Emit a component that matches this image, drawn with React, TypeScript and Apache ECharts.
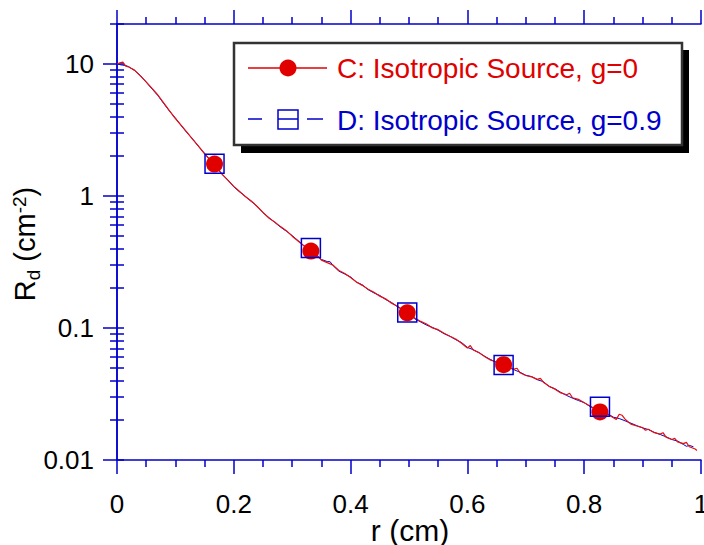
import React, { useEffect, useRef } from 'react';
import * as echarts from 'echarts';

// ---------- data ----------
const xMajorTicks = [0, 0.2, 0.4, 0.6, 0.8, 1];
const xTickLabels = ['0', '0.2', '0.4', '0.6', '0.8', '1'];
const xMinorTicks = [0.05, 0.1, 0.15, 0.25, 0.3, 0.35, 0.45, 0.5, 0.55, 0.65, 0.7, 0.75, 0.85, 0.9, 0.95];
const yMajorTicks = [0.01, 0.1, 1, 10];
const yTickLabels = ['0.01', '0.1', '1', '10'];
const yMinorTicks = [
  0.02, 0.03, 0.04, 0.05, 0.06, 0.07, 0.08, 0.09,
  0.2, 0.3, 0.4, 0.5, 0.6, 0.7, 0.8, 0.9,
  2, 3, 4, 5, 6, 7, 8, 9, 20,
];

const legendC = 'C: Isotropic Source, g=0';
const legendD = 'D: Isotropic Source, g=0.9';
const xTitle = 'r (cm)';

// C: isotropic source, g=0 (red line)
const curveC: [number, number][] = [
  [0, 9.95], [0.005, 10.15], [0.01, 10.3], [0.015, 9.6], [0.02, 9.45], [0.03, 8.95], [0.04, 8.1],
  [0.05, 7.3], [0.06, 6.5], [0.07, 5.8], [0.08, 5.05], [0.09, 4.4], [0.1, 3.85], [0.11, 3.42],
  [0.12, 3.02], [0.13, 2.66], [0.14, 2.37], [0.15, 2.08], [0.16, 1.86], [0.17, 1.66], [0.18, 1.46],
  [0.19, 1.31], [0.2, 1.18], [0.21, 1.08], [0.22, 0.985], [0.23, 0.915], [0.24, 0.83], [0.25, 0.75],
  [0.26, 0.68], [0.27, 0.635], [0.28, 0.585], [0.29, 0.545], [0.3, 0.495], [0.31, 0.455], [0.32, 0.418],
  [0.33, 0.39], [0.34, 0.365], [0.35, 0.326], [0.36, 0.312], [0.37, 0.299], [0.38, 0.272], [0.39, 0.258],
  [0.4, 0.241], [0.41, 0.223], [0.42, 0.21], [0.43, 0.196], [0.44, 0.186], [0.45, 0.174], [0.46, 0.166],
  [0.47, 0.154], [0.48, 0.146], [0.49, 0.136], [0.5, 0.128], [0.51, 0.119], [0.52, 0.112], [0.53, 0.107],
  [0.54, 0.1], [0.55, 0.097], [0.56, 0.091], [0.57, 0.0865], [0.58, 0.0825], [0.59, 0.0765], [0.6, 0.0705],
  [0.605, 0.0735], [0.61, 0.068], [0.62, 0.065], [0.63, 0.0605], [0.64, 0.057], [0.65, 0.0552], [0.66, 0.0528],
  [0.67, 0.0505], [0.68, 0.0488], [0.685, 0.0495], [0.69, 0.0458], [0.7, 0.0436], [0.71, 0.0426], [0.72, 0.0408],
  [0.725, 0.0415], [0.73, 0.0388], [0.74, 0.0362], [0.75, 0.0344], [0.76, 0.0322], [0.77, 0.0312], [0.775, 0.032],
  [0.78, 0.0296], [0.79, 0.0288], [0.8, 0.0271], [0.81, 0.0256], [0.82, 0.0241], [0.83, 0.0231], [0.84, 0.0222],
  [0.85, 0.0209], [0.855, 0.0203], [0.86, 0.0222], [0.865, 0.0218], [0.87, 0.0204], [0.875, 0.0195], [0.88, 0.0187],
  [0.89, 0.0181], [0.9, 0.0176], [0.905, 0.0168], [0.91, 0.0171], [0.92, 0.0161], [0.93, 0.0157], [0.935, 0.0161],
  [0.94, 0.0149], [0.95, 0.0143], [0.955, 0.0146], [0.96, 0.0137], [0.97, 0.0133], [0.975, 0.0136], [0.98, 0.0126],
  [0.99, 0.0121], [0.993, 0.0118],
];

// D: isotropic source, g=0.9 (blue line)
const curveD: [number, number][] = [
  [0, 10.0], [0.005, 9.85], [0.01, 9.75], [0.015, 9.7], [0.02, 9.5], [0.03, 8.9], [0.04, 8.15],
  [0.05, 7.25], [0.06, 6.45], [0.07, 5.75], [0.08, 5.0], [0.09, 4.38], [0.1, 3.88], [0.11, 3.4],
  [0.12, 3.0], [0.13, 2.68], [0.14, 2.35], [0.15, 2.1], [0.16, 1.85], [0.17, 1.64], [0.18, 1.45],
  [0.19, 1.32], [0.2, 1.17], [0.21, 1.07], [0.22, 0.99], [0.23, 0.905], [0.24, 0.835], [0.25, 0.745],
  [0.26, 0.685], [0.27, 0.63], [0.28, 0.58], [0.29, 0.54], [0.3, 0.5], [0.31, 0.458], [0.32, 0.42],
  [0.33, 0.392], [0.34, 0.36], [0.35, 0.33], [0.36, 0.318], [0.365, 0.317], [0.37, 0.296], [0.38, 0.269],
  [0.39, 0.256], [0.4, 0.243], [0.41, 0.222], [0.42, 0.212], [0.43, 0.195], [0.44, 0.184], [0.45, 0.176],
  [0.46, 0.164], [0.47, 0.156], [0.48, 0.145], [0.49, 0.137], [0.5, 0.127], [0.51, 0.117], [0.52, 0.111],
  [0.53, 0.105], [0.54, 0.101], [0.55, 0.096], [0.56, 0.0905], [0.57, 0.0865], [0.58, 0.0815], [0.59, 0.0775],
  [0.6, 0.0712], [0.61, 0.0684], [0.62, 0.0648], [0.63, 0.0608], [0.64, 0.0575], [0.65, 0.0548], [0.66, 0.0525],
  [0.67, 0.0502], [0.68, 0.0482], [0.69, 0.0462], [0.7, 0.0438], [0.71, 0.0428], [0.72, 0.0405], [0.73, 0.0392],
  [0.74, 0.036], [0.75, 0.0346], [0.76, 0.0325], [0.77, 0.0308], [0.78, 0.0294], [0.79, 0.0282], [0.8, 0.0272],
  [0.81, 0.0254], [0.82, 0.0243], [0.83, 0.0233], [0.84, 0.0224], [0.85, 0.0211], [0.86, 0.0206], [0.87, 0.0198],
  [0.88, 0.019], [0.89, 0.0182], [0.9, 0.0175], [0.91, 0.017], [0.92, 0.0162], [0.93, 0.0156], [0.94, 0.015],
  [0.95, 0.0143], [0.96, 0.0139], [0.97, 0.0131], [0.975, 0.0127], [0.98, 0.0129], [0.987, 0.0126],
];

const markersC: [number, number][] = [
  [0.167, 1.74], [0.332, 0.382], [0.497, 0.130], [0.662, 0.0527], [0.827, 0.0231],
];
const markersD: [number, number][] = [
  [0.167, 1.75], [0.332, 0.403], [0.497, 0.131], [0.662, 0.0525], [0.827, 0.0253],
];

// ---------- styles ----------
const BLUE = '#0000cc';
const RED = '#e00000';
const FONT = '"Liberation Sans", Arial, Helvetica, sans-serif';

function measure(text: string, size: number): number {
  const ctx = document.createElement('canvas').getContext('2d');
  if (!ctx) return text.length * size * 0.55;
  ctx.font = `${size}px "Liberation Sans", Arial, sans-serif`;
  return ctx.measureText(text).width;
}

export default function App() {
  const ref = useRef<HTMLDivElement>(null);

  useEffect(() => {
    if (!ref.current) return;
    const chart = echarts.init(ref.current, undefined, { renderer: 'svg' });

    const axisLineStyle = { color: BLUE, width: 1.5 };
    const tickStyle = { color: BLUE, width: 1.5 };

    // y title: R_d (cm^-2)
    const parts = [
      { t: 'R', fs: 29, shift: 0 },
      { t: 'd', fs: 19, shift: 5 },
      { t: ' (cm', fs: 29, shift: 0 },
      { t: '-2', fs: 19, shift: -9 },
      { t: ')', fs: 29, shift: 0 },
    ];
    let acc = 0;
    const yTitleChildren = parts.map((p) => {
      const el = {
        type: 'text',
        x: acc,
        y: p.shift - 0.3465 * p.fs,
        style: {
          text: p.t,
          fontSize: p.fs,
          fontFamily: FONT,
          fill: '#000',
          align: 'left',
          verticalAlign: 'middle',
        },
      };
      acc += measure(p.t, p.fs);
      return el;
    });

    const yLabelFmt = (v: number) => {
      const i = yMajorTicks.findIndex((t) => Math.abs(Math.log10(t) - Math.log10(v)) < 1e-6);
      return i >= 0 ? yTickLabels[i] : '';
    };
    const xLabelFmt = (v: number) => {
      const i = xMajorTicks.findIndex((t) => Math.abs(t - v) < 1e-6);
      return i >= 0 ? xTickLabels[i] : '';
    };

    const baseX = { type: 'value', min: 0, max: 1, splitLine: { show: false } };
    const baseY = { type: 'log', logBase: 10, min: 0.01, max: 20, splitLine: { show: false } };

    const option: any = {
      animation: false,
      backgroundColor: '#fff',
      grid: { left: 117, right: 3, top: 24, bottom: 85, containLabel: false, outerBoundsMode: 'none' },
      xAxis: [
        {
          ...baseX,
          position: 'bottom',
          axisLine: { show: true, lineStyle: axisLineStyle },
          axisTick: { show: true, inside: false, length: 14, lineStyle: tickStyle, customValues: xMajorTicks },
          axisLabel: {
            show: true, customValues: xMajorTicks, formatter: xLabelFmt,
            fontSize: 26, fontFamily: FONT, color: '#000', margin: 31,
          },
        },
        {
          ...baseX,
          position: 'bottom',
          axisLine: { show: false },
          axisTick: { show: true, inside: false, length: 7, lineStyle: tickStyle, customValues: xMinorTicks },
          axisLabel: { show: false },
        },
        {
          ...baseX,
          position: 'top',
          axisLine: { show: true, lineStyle: axisLineStyle },
          axisTick: { show: true, inside: false, length: 14, lineStyle: tickStyle, customValues: xMajorTicks },
          axisLabel: { show: false },
        },
        {
          ...baseX,
          position: 'top',
          axisLine: { show: false },
          axisTick: { show: true, inside: false, length: 7, lineStyle: tickStyle, customValues: xMinorTicks },
          axisLabel: { show: false },
        },
      ],
      yAxis: [
        {
          ...baseY,
          position: 'left',
          axisLine: { show: true, lineStyle: axisLineStyle },
          axisTick: { show: true, inside: false, length: 14, lineStyle: tickStyle, customValues: yMajorTicks },
          axisLabel: {
            show: true, customValues: yMajorTicks, formatter: yLabelFmt,
            fontSize: 26, fontFamily: FONT, color: '#000', margin: 23,
          },
        },
        {
          ...baseY,
          position: 'left',
          axisLine: { show: false },
          axisTick: { show: true, inside: false, length: 7, lineStyle: tickStyle, customValues: yMinorTicks },
          axisLabel: { show: false },
        },
        {
          ...baseY,
          position: 'right',
          axisLine: { show: true, lineStyle: axisLineStyle },
          axisTick: { show: true, inside: false, length: 7, lineStyle: tickStyle, customValues: [...yMajorTicks, ...yMinorTicks] },
          axisLabel: { show: false },
        },
      ],
      series: [
        {
          type: 'line', xAxisIndex: 0, yAxisIndex: 0, data: curveD, showSymbol: false,
          lineStyle: { color: BLUE, width: 1 }, z: 2, silent: true,
        },
        {
          type: 'line', xAxisIndex: 0, yAxisIndex: 0, data: curveC, showSymbol: false,
          lineStyle: { color: '#e41010', width: 1.2 }, z: 3, silent: true,
        },
        {
          type: 'scatter', xAxisIndex: 0, yAxisIndex: 0, data: markersC, symbol: 'circle', symbolSize: 17,
          itemStyle: { color: RED, opacity: 1 }, z: 4,
        },
        {
          type: 'scatter', xAxisIndex: 0, yAxisIndex: 0, data: markersD, symbol: 'rect', symbolSize: 19,
          itemStyle: { color: 'rgba(0,0,0,0)', borderColor: BLUE, borderWidth: 1.5, opacity: 1 }, z: 5,
        },
      ],
      graphic: [
        // legend shadow + box
        { type: 'rect', z: 100, shape: { x: 241, y: 50, width: 448, height: 103 }, style: { fill: '#000' } },
        { type: 'rect', z: 101, shape: { x: 234, y: 43, width: 448, height: 102 }, style: { fill: '#fff', stroke: '#333', lineWidth: 2.5 } },
        // C sample
        { type: 'line', z: 102, shape: { x1: 248, y1: 68, x2: 327, y2: 68 }, style: { stroke: RED, lineWidth: 1.5 } },
        { type: 'circle', z: 103, shape: { cx: 288, cy: 68, r: 8.5 }, style: { fill: RED } },
        {
          type: 'text', z: 103, x: 337, y: 68,
          style: { text: legendC, fontSize: 28, fontFamily: FONT, fill: RED, align: 'left', verticalAlign: 'middle' },
        },
        // D sample
        { type: 'line', z: 102, shape: { x1: 248, y1: 119, x2: 262, y2: 119 }, style: { stroke: BLUE, lineWidth: 1.5 } },
        { type: 'line', z: 102, shape: { x1: 278, y1: 119, x2: 298, y2: 119 }, style: { stroke: BLUE, lineWidth: 1.5 } },
        { type: 'line', z: 102, shape: { x1: 307, y1: 119, x2: 323, y2: 119 }, style: { stroke: BLUE, lineWidth: 1.5 } },
        { type: 'rect', z: 103, shape: { x: 278, y: 110, width: 20, height: 19 }, style: { fill: 'none', stroke: BLUE, lineWidth: 1.5 } },
        {
          type: 'text', z: 103, x: 337, y: 120,
          style: { text: legendD, fontSize: 28, fontFamily: FONT, fill: BLUE, align: 'left', verticalAlign: 'middle' },
        },
        // x title
        {
          type: 'text', z: 100, x: 410, y: 530,
          style: { text: xTitle, fontSize: 30, fontFamily: FONT, fill: '#000', align: 'center', verticalAlign: 'middle' },
        },
        // y title
        {
          type: 'group', z: 100, x: 35, y: 244 + acc / 2, rotation: Math.PI / 2,
          children: yTitleChildren,
        },
      ],
    };

    chart.setOption(option);
    return () => chart.dispose();
  }, []);

  return (
    <div
      ref={ref}
      style={{ position: 'absolute', left: 0, top: 0, width: 704, height: 545, background: '#fff' }}
    />
  );
}
